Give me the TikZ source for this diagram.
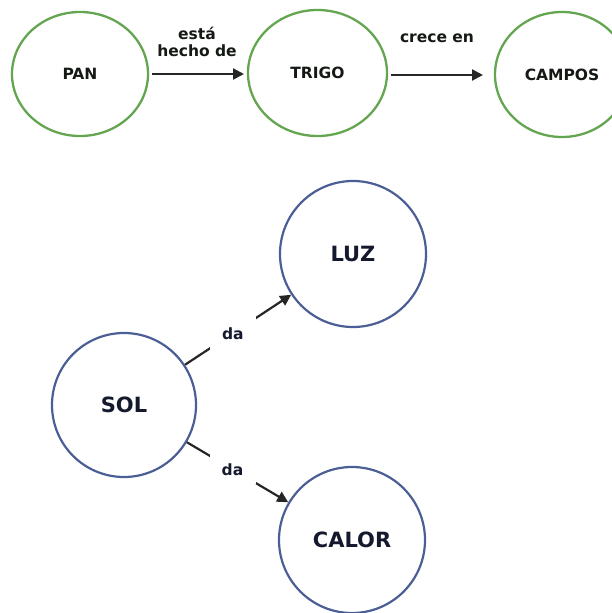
\documentclass[tikz,border=0pt]{standalone}
\usepackage{fontspec}
\setmainfont{DejaVu Sans}
\usetikzlibrary{arrows.meta,shapes.geometric}
\definecolor{cgreen}{RGB}{100,165,80}
\definecolor{cblue}{RGB}{75,95,150}
\definecolor{ctext}{RGB}{20,25,20}
\definecolor{cbtext}{RGB}{20,25,45}
\tikzset{
  gnode/.style={ellipse, draw=cgreen, line width=2.3pt, minimum width=136pt, minimum height=124pt, inner sep=0pt,
    font=\fontsize{15.5}{18}\selectfont\bfseries, text=ctext},
  bnode/.style={circle, draw=cblue, line width=2.2pt, minimum size=146pt, inner sep=0pt,
    font=\fontsize{21}{24}\selectfont\bfseries, text=cbtext},
  conn/.style={line width=2.2pt, draw=black!85, -{Triangle[length=11pt,width=11pt]}},
  elabel/.style={font=\fontsize{15.5}{17.5}\selectfont\bfseries, text=ctext, align=center},
  dlabel/.style={font=\fontsize{15.5}{17}\selectfont\bfseries, text=cbtext, fill=white, inner sep=0pt, minimum width=46pt, minimum height=38pt}
}
\begin{document}
\begin{tikzpicture}[x=1pt,y=-1pt]
\useasboundingbox (0,0) rectangle (611,613);
\node[gnode] (pan) at (80,74) {PAN};
\node[gnode, minimum width=139pt, minimum height=126pt] (trigo) at (317.5,73) {TRIGO};
\node[gnode, minimum width=134pt, minimum height=125pt] (campos) at (562,74.5) {CAMPOS};
\draw[conn] (pan.east) ++(3,0) coordinate (p1) -- (244,74) coordinate (p2);
\node[elabel] (l1) at (197,42) {está\\hecho de};
\draw[conn] (trigo.east) ++(3,2) coordinate (t1) -- (483,75) coordinate (t2);
\node[elabel] (l2) at (437,38) {crece en};

\node[bnode] (luz) at (353,254) {LUZ};
\node[bnode, minimum size=144pt] (sol) at (124,405) {SOL};
\node[bnode] (calor) at (352,540) {CALOR};

\draw[conn] (sol) -- node[dlabel, pos=0.45] (d1) {da} (luz);
\draw[conn] (sol) -- node[dlabel, pos=0.45, minimum height=30pt] (d2) {da} (calor);
\end{tikzpicture}
\end{document}
